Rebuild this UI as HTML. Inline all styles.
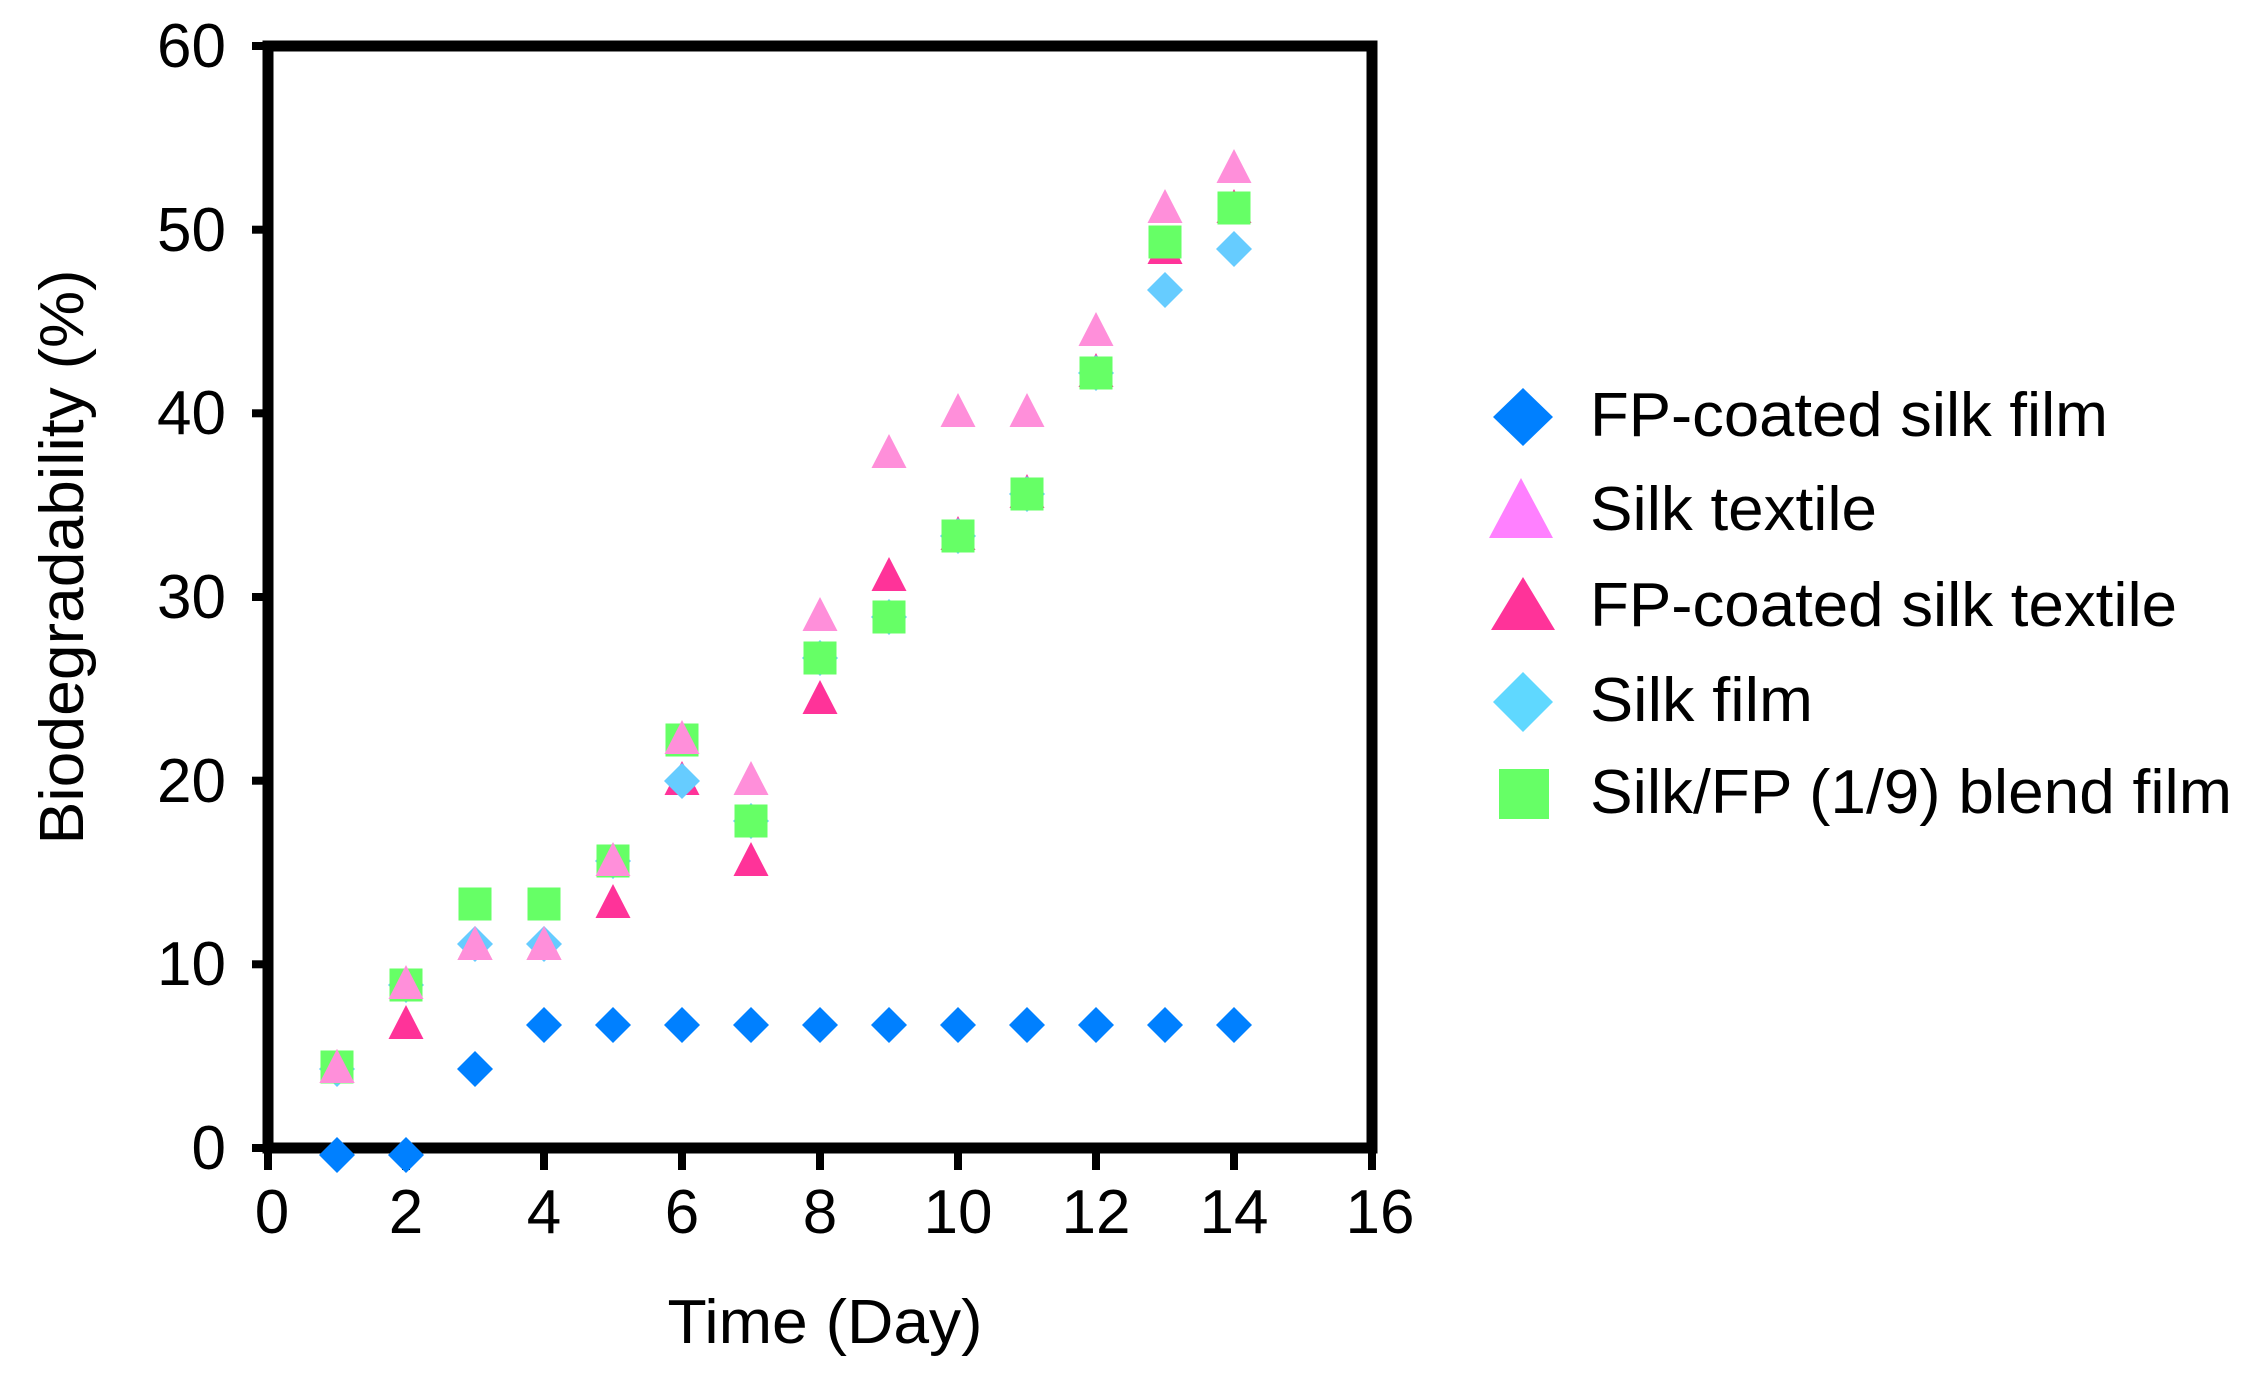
<!DOCTYPE html>
<html><head><meta charset="utf-8"><style>html,body{margin:0;padding:0;background:#fff}svg{display:block}</style></head>
<body>
<svg width="2267" height="1386" viewBox="0 0 2267 1386" xmlns="http://www.w3.org/2000/svg" font-family="'Liberation Sans', Arial, sans-serif">
<defs>
<path id="dm" d="M0,-18 L18,0 L0,18 L-18,0 Z"/>
<path id="tr" d="M0,-20 L17.5,14 L-17.5,14 Z"/>
<path id="sq" d="M-16.5,-16.5 h33 v33 h-33 Z"/>
</defs>
<rect width="2267" height="1386" fill="#fff"/>
<rect x="268" y="46" width="1104" height="1102" fill="none" stroke="#000" stroke-width="11"/>
<g stroke="#000" stroke-width="8">
<line x1="252" y1="46" x2="268" y2="46"/><line x1="252" y1="229.7" x2="268" y2="229.7"/>
<line x1="252" y1="413.3" x2="268" y2="413.3"/><line x1="252" y1="597" x2="268" y2="597"/>
<line x1="252" y1="780.7" x2="268" y2="780.7"/><line x1="252" y1="964.3" x2="268" y2="964.3"/>
<line x1="252" y1="1148" x2="268" y2="1148"/>
<line x1="268" y1="1148" x2="268" y2="1170"/><line x1="406" y1="1148" x2="406" y2="1170"/>
<line x1="544" y1="1148" x2="544" y2="1170"/><line x1="682" y1="1148" x2="682" y2="1170"/>
<line x1="820" y1="1148" x2="820" y2="1170"/><line x1="958" y1="1148" x2="958" y2="1170"/>
<line x1="1096" y1="1148" x2="1096" y2="1170"/><line x1="1234" y1="1148" x2="1234" y2="1170"/>
<line x1="1372" y1="1148" x2="1372" y2="1170"/>
</g>
<g font-size="62" fill="#000" text-anchor="end">
<text x="226" y="67">60</text><text x="226" y="251">50</text><text x="226" y="434">40</text>
<text x="226" y="618">30</text><text x="226" y="802">20</text><text x="226" y="985">10</text><text x="226" y="1169">0</text>
</g>
<g font-size="62" fill="#000" text-anchor="middle">
<text x="272" y="1233">0</text><text x="406" y="1233">2</text><text x="544" y="1233">4</text>
<text x="682" y="1233">6</text><text x="820" y="1233">8</text><text x="958" y="1233">10</text>
<text x="1096" y="1233">12</text><text x="1234" y="1233">14</text><text x="1380" y="1233">16</text>
</g>
<text x="825" y="1343" font-size="62" text-anchor="middle" textLength="315" lengthAdjust="spacingAndGlyphs">Time (Day)</text>
<text transform="translate(83,557) rotate(-90)" font-size="62" text-anchor="middle" textLength="575" lengthAdjust="spacingAndGlyphs">Biodegradability (%)</text>

<g fill="#0080FF">
<use href="#dm" x="337" y="1155"/><use href="#dm" x="406" y="1155"/><use href="#dm" x="475" y="1069"/>
<use href="#dm" x="544" y="1025"/><use href="#dm" x="613" y="1025"/><use href="#dm" x="682" y="1025"/>
<use href="#dm" x="751" y="1025"/><use href="#dm" x="820" y="1025"/><use href="#dm" x="889" y="1025"/>
<use href="#dm" x="958" y="1025"/><use href="#dm" x="1027" y="1025"/><use href="#dm" x="1096" y="1025"/>
<use href="#dm" x="1165" y="1025"/><use href="#dm" x="1234" y="1025"/>
</g>
<g fill="#FF3399">
<use href="#tr" x="337" y="1069"/><use href="#tr" x="406" y="1025"/><use href="#tr" x="475" y="946"/>
<use href="#tr" x="544" y="946"/><use href="#tr" x="613" y="904"/><use href="#tr" x="682" y="781"/>
<use href="#tr" x="751" y="862"/><use href="#tr" x="820" y="700"/><use href="#tr" x="889" y="577"/>
<use href="#tr" x="958" y="536"/><use href="#tr" x="1027" y="494"/><use href="#tr" x="1096" y="373"/>
<use href="#tr" x="1165" y="250"/><use href="#tr" x="1234" y="209"/>
</g>
<g fill="#66CCFF">
<use href="#dm" x="337" y="1069"/><use href="#dm" x="406" y="985"/><use href="#dm" x="475" y="944"/>
<use href="#dm" x="544" y="944"/><use href="#dm" x="613" y="861"/><use href="#dm" x="682" y="781"/>
<use href="#dm" x="751" y="821"/><use href="#dm" x="820" y="658"/><use href="#dm" x="889" y="617"/>
<use href="#dm" x="958" y="536"/><use href="#dm" x="1027" y="494"/><use href="#dm" x="1096" y="373"/>
<use href="#dm" x="1165" y="290"/><use href="#dm" x="1234" y="249"/>
</g>
<g fill="#66FF66">
<use href="#sq" x="337" y="1067"/><use href="#sq" x="406" y="985"/><use href="#sq" x="475" y="904"/>
<use href="#sq" x="544" y="904"/><use href="#sq" x="613" y="861"/><use href="#sq" x="682" y="740"/>
<use href="#sq" x="751" y="821"/><use href="#sq" x="820" y="658"/><use href="#sq" x="889" y="617"/>
<use href="#sq" x="958" y="536"/><use href="#sq" x="1027" y="494"/><use href="#sq" x="1096" y="373"/>
<use href="#sq" x="1165" y="242"/><use href="#sq" x="1234" y="208"/>
</g>
<g fill="#FF8FDA">
<use href="#tr" x="337" y="1069"/><use href="#tr" x="406" y="985"/><use href="#tr" x="475" y="946"/>
<use href="#tr" x="544" y="946"/><use href="#tr" x="613" y="862"/><use href="#tr" x="682" y="740"/>
<use href="#tr" x="751" y="781"/><use href="#tr" x="820" y="617"/><use href="#tr" x="889" y="454"/>
<use href="#tr" x="958" y="413"/><use href="#tr" x="1027" y="413"/><use href="#tr" x="1096" y="332"/>
<use href="#tr" x="1165" y="209"/><use href="#tr" x="1234" y="169"/>
</g>

<path d="M1523,388 L1553,417 L1523,446 L1493,417 Z" fill="#0080FF"/>
<path d="M1521,478 L1553,538 L1489,538 Z" fill="#FF80FF"/>
<path d="M1523,577 L1555,630 L1491,630 Z" fill="#FF3399"/>
<path d="M1523,672 L1553,702 L1523,732 L1493,702 Z" fill="#5FD8FF"/>
<rect x="1499" y="769" width="50" height="50" fill="#66FF66"/>
<g font-size="62" fill="#000">
<text x="1590" y="436" textLength="518" lengthAdjust="spacingAndGlyphs">FP-coated silk film</text>
<text x="1590" y="530" textLength="287" lengthAdjust="spacingAndGlyphs">Silk textile</text>
<text x="1590" y="626" textLength="587" lengthAdjust="spacingAndGlyphs">FP-coated silk textile</text>
<text x="1590" y="721" textLength="223" lengthAdjust="spacingAndGlyphs">Silk film</text>
<text x="1590" y="813" textLength="642" lengthAdjust="spacingAndGlyphs">Silk/FP (1/9) blend film</text>
</g>
</svg>
</body></html>
